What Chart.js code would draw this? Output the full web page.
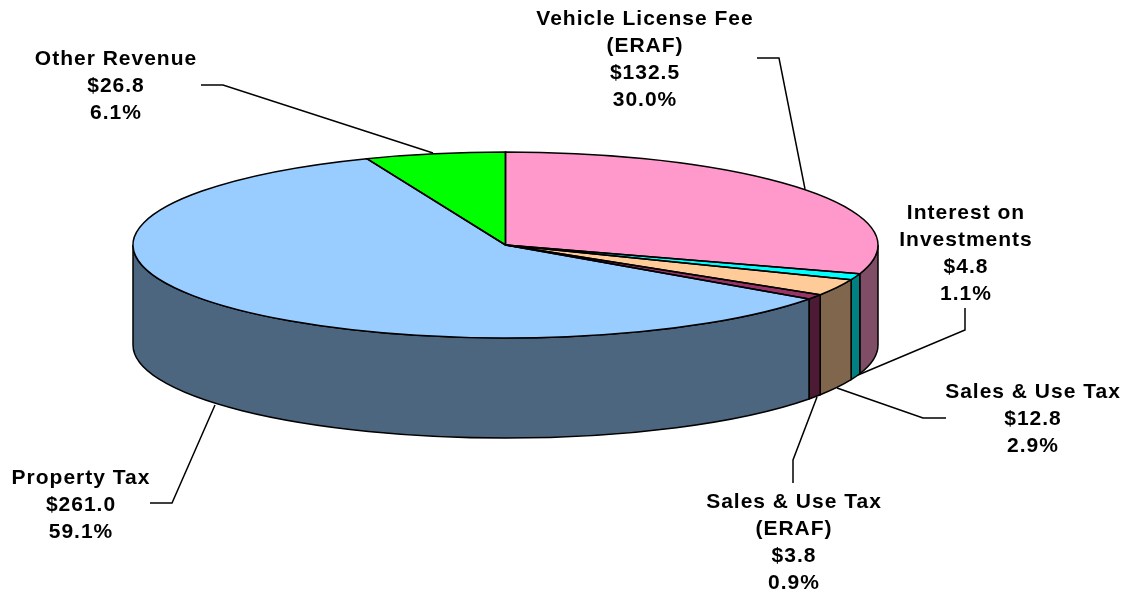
<!DOCTYPE html>
<html>
<head>
<meta charset="utf-8">
<title>Revenue</title>
<script src="https://cdn.jsdelivr.net/npm/chart.js@4/dist/chart.umd.min.js"></script>
<style>
  html, body { margin: 0; background: #fff; }
  #wrap { width: 1122px; height: 592px; }
</style>
</head>
<body>
<div id="wrap"><canvas id="pie3d" width="1122" height="592"></canvas></div>
<script>
var categories = [
  ['Vehicle License Fee', '(ERAF)'],
  ['Interest on', 'Investments'],
  ['Sales & Use Tax'],
  ['Sales & Use Tax', '(ERAF)'],
  ['Property Tax'],
  ['Other Revenue']
];
var amounts = [132.5, 4.8, 12.8, 3.8, 261.0, 26.8];
var percents = ['30.0%', '1.1%', '2.9%', '0.9%', '59.1%', '6.1%'];
var topColors = ['#FF99CC', '#00FFFF', '#FFCC99', '#993366', '#99CCFF', '#00FF00'];
var sideColors = ['#804D66', '#008080', '#80664D', '#4D1A33', '#4D6680', '#008000'];

// where each label goes: centre x, first baseline, leader line
var labelX = [645, 966, 1033, 794, 81, 116];
var labelY = [25, 219, 398, 508, 484, 65];
var leaders = [
  [[757, 58], [779, 58], [805, 189]],
  [[965, 308], [965, 330], [858, 375]],
  [[946, 418], [923, 418], [837, 388]],
  [[793, 483], [793, 460], [817, 397]],
  [[150, 503], [172, 503], [215, 405]],
  [[201, 85], [223, 85], [433, 153]]
];

var cx = 505.5, cy = 245, rx = 372.5, ry = 93, depth = 100;

function ellipseTransform(ctx, arc) {
  ctx.translate(cx, cy);
  ctx.scale(rx / arc.outerRadius, ry / arc.outerRadius);
  ctx.translate(-arc.x, -arc.y);
}

var pie3d = {
  id: 'pie3d',
  // the walls go under the chart's own slices
  beforeDatasetsDraw: function(chart) {
    var ctx = chart.ctx;
    chart.getDatasetMeta(0).data.forEach(function(arc, i) {
      var a0 = Math.max(arc.startAngle, 0);
      var a1 = Math.min(arc.endAngle, Math.PI);
      if (a1 <= a0) return;
      ctx.beginPath();
      ctx.ellipse(cx, cy, rx, ry, 0, a0, a1);
      ctx.lineTo(cx + rx * Math.cos(a1), cy + ry * Math.sin(a1) + depth);
      ctx.ellipse(cx, cy + depth, rx, ry, 0, a1, a0, true);
      ctx.closePath();
      ctx.fillStyle = sideColors[i];
      ctx.fill();
      ctx.lineWidth = 1.5;
      ctx.strokeStyle = '#000';
      ctx.stroke();
    });
    // squash the slices into the top ellipse
    var first = chart.getDatasetMeta(0).data[0];
    ctx.save();
    ellipseTransform(ctx, first);
  },
  afterDatasetsDraw: function(chart) {
    var ctx = chart.ctx;
    ctx.restore();

    chart.getDatasetMeta(0).data.forEach(function(arc) {
      ctx.beginPath();
      ctx.moveTo(cx, cy);
      ctx.ellipse(cx, cy, rx, ry, 0, arc.startAngle, arc.endAngle);
      ctx.closePath();
      ctx.lineWidth = 1.5;
      ctx.strokeStyle = '#000';
      ctx.stroke();
    });

    ctx.lineWidth = 1.5;
    leaders.forEach(function(pts) {
      ctx.beginPath();
      ctx.moveTo(pts[0][0], pts[0][1]);
      ctx.lineTo(pts[1][0], pts[1][1]);
      ctx.lineTo(pts[2][0], pts[2][1]);
      ctx.stroke();
    });

    ctx.fillStyle = '#000';
    ctx.font = 'bold 21px "Liberation Sans", Arial, sans-serif';
    ctx.letterSpacing = '1px';
    ctx.textAlign = 'center';
    ctx.textBaseline = 'alphabetic';
    categories.forEach(function(name, i) {
      var lines = name.concat(['$' + amounts[i].toFixed(1), percents[i]]);
      lines.forEach(function(line, n) {
        ctx.fillText(line, labelX[i], labelY[i] + n * 27);
      });
    });
  }
};

var myPie = new Chart(document.getElementById('pie3d').getContext('2d'), {
  type: 'pie',
  data: {
    labels: categories.map(function(c) { return c.join(' '); }),
    datasets: [{
      data: amounts,
      backgroundColor: topColors,
      borderWidth: 0
    }]
  },
  options: {
    responsive: false,
    animation: false,
    plugins: { legend: { display: false }, tooltip: { enabled: false } }
  },
  plugins: [pie3d]
});
</script>
</body>
</html>
